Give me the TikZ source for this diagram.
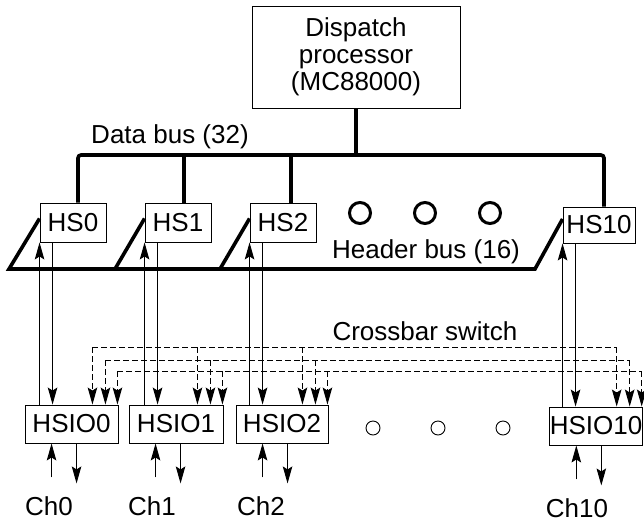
\documentclass[tikz,border=0pt]{standalone}
\usepackage{fontspec}
\setmainfont{Liberation Sans}
\usetikzlibrary{arrows.meta}

\begin{document}
\begin{tikzpicture}[
        x=1pt, y=-1pt,
        box/.style={rectangle, draw, line width=0.9pt, inner sep=0pt, minimum height=39pt, align=center, font=\fontsize{26}{27}\selectfont},
        lbl/.style={inner sep=0pt, font=\fontsize{26}{27}\selectfont},
        bus/.style={line width=3.6pt, rounded corners=3pt},
        arrow/.style={-{Stealth[length=17pt, width=9.5pt, inset=3pt]}, line width=1pt},
        xbar/.style={line width=0.9pt, dash pattern=on 6pt off 3pt}
    ]
        \useasboundingbox (0,0) rectangle (644,522);

        \node[box, minimum width=208pt, minimum height=102pt] (disp) at (356,57) {Dispatch\\processor\\(MC88000)};

        \node[box, minimum width=66pt] (hs0) at (73,222.5) {HS0};
        \node[box, minimum width=66pt] (hs1) at (178,222.5) {HS1};
        \node[box, minimum width=66pt] (hs2) at (283,222.5) {HS2};
        \node[box, minimum width=72pt, minimum height=36pt] (hs10) at (599,225) {HS10};

        \node[box, minimum width=93pt, minimum height=38pt] (hsio0) at (71.5,424) {HSIO0};
        \node[box, minimum width=94pt, minimum height=38pt] (hsio1) at (176,424) {HSIO1};
        \node[box, minimum width=92pt, minimum height=38pt] (hsio2) at (282,424) {HSIO2};
        \node[box, minimum width=92pt, minimum height=38pt] (hsio10) at (596,426) {HSIO10};

        \node[lbl] (ch0) at (49,506) {Ch0};
        \node[lbl] (ch1) at (152,506) {Ch1};
        \node[lbl] (ch2) at (261,506) {Ch2};
        \node[lbl] (ch10) at (577,508) {Ch10};

        \node[lbl] (dbus) at (170,137) {Data bus (32)};
        \node[lbl] (hbus) at (426,252) {Header bus (16)};
        \node[lbl] (xsw) at (425,331) {Crossbar switch};

        % data bus
        \draw[bus] (disp.south) -- (disp.south |- 0,155);
        \draw[bus] ([xshift=5pt]hs0.north) |- ([xshift=5pt]hs10.north |- 0,155) -- ([xshift=5pt]hs10.north);
        \draw[bus] ([xshift=6pt]hs1.north) -- ([xshift=6pt]hs1.north |- 0,155);
        \draw[bus] ([xshift=8pt]hs2.north) -- ([xshift=8pt]hs2.north |- 0,155);

        % header bus
        \draw[bus, rounded corners=0pt] ([yshift=4pt]hs0.west) -- (9,269) -- (535,269) -- ([yshift=6pt]hs10.west);
        \draw[bus, rounded corners=0pt] ([yshift=4pt]hs1.west) -- (115,269);
        \draw[bus, rounded corners=0pt] ([yshift=4pt]hs2.west) -- (220,269);

        \foreach \x in {360,425,490}
            \draw[line width=3pt] (\x,213) circle[radius=10.5pt];
        \foreach \x in {373,438,503}
            \draw[line width=0.9pt] (\x,428) circle[radius=7pt];

        % HS <-> HSIO and channels
        \foreach \n in {0,1,2,10} {
            \draw[arrow] (hs\n.south west |- hsio\n.north) -- (hs\n.south west);
            \draw[arrow] ([xshift=13pt]hs\n.south west) -- ([xshift=13pt]hs\n.south west |- hsio\n.north);
            \draw[arrow] ([xshift=27pt]hsio\n.south west) ++(0,34) -- ([xshift=27pt]hsio\n.south west);
            \draw[arrow] ([xshift=52pt]hsio\n.south west) -- ++(0,40);
        }

        % crossbar switch
        \foreach \s/\yy in {-26/347, -13/360, -1/371} {
            \draw[xbar] ([xshift=\s pt]hsio0.north east |- 0,\yy) -- ([xshift=\s pt]hsio10.north east |- 0,\yy);
            \foreach \n in {0,1,2,10}
                \draw[xbar, arrow] ([xshift=\s pt]hsio\n.north east |- 0,\yy) -- ([xshift=\s pt]hsio\n.north east);
        }
\end{tikzpicture}
\end{document}
